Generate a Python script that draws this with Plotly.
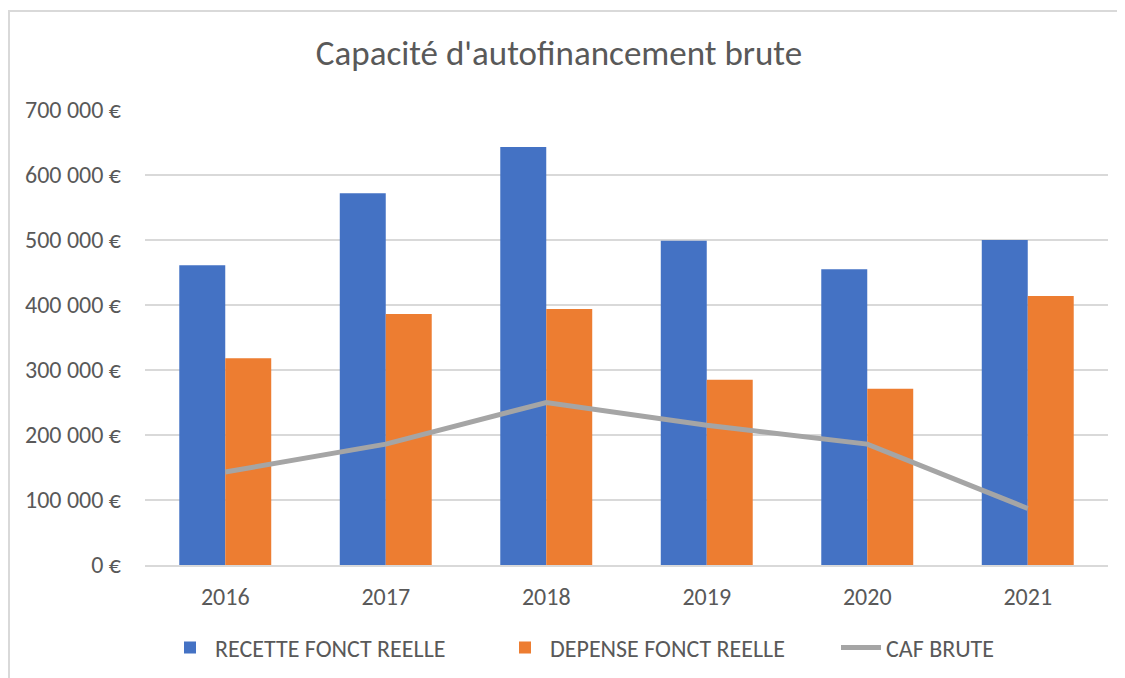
import plotly.graph_objects as go

years = ["2016", "2017", "2018", "2019", "2020", "2021"]
recette = [461000, 572000, 643000, 499000, 455000, 500000]
depense = [318000, 386000, 394000, 285000, 271000, 414000]
caf = [143000, 186000, 250000, 215000, 186000, 87000]
tick_vals = [0, 100000, 200000, 300000, 400000, 500000, 600000, 700000]
tick_text = ["0 €", "100 000 €", "200 000 €", "300 000 €", "400 000 €", "500 000 €", "600 000 €", "700 000 €"]

FONT = "Carlito, Calibri, Lato, Liberation Sans, sans-serif"
TXT = "#595959"

W, H = 1125, 678
L, R, T, B = 137, 1100, 102, 557   # plot area in figure pixels
PW, PH = R - L, B - T

fig = go.Figure()
fig.add_trace(go.Bar(x=years, y=recette, name="RECETTE FONCT REELLE", legend="legend",
                     marker=dict(color="#4472C4", line=dict(width=0))))
fig.add_trace(go.Bar(x=years, y=depense, name="DEPENSE FONCT REELLE", legend="legend2",
                     marker=dict(color="#ED7D31", line=dict(width=0))))
fig.add_trace(go.Scatter(x=years, y=caf, name="CAF BRUTE", mode="lines", legend="legend3",
                         line=dict(color="#A5A5A5", width=5)))

leg_y = -(640 - B) / PH


def leg(text_x):
    return dict(orientation="h", x=(text_x - 50 - L) / PW, xanchor="left",
                y=leg_y, yanchor="middle", bgcolor="rgba(0,0,0,0)",
                font=dict(size=24, color=TXT, family=FONT), itemwidth=40)


fig.update_layout(
    width=W, height=H,
    paper_bgcolor="white", plot_bgcolor="white",
    margin=dict(l=L, r=W - R, t=T, b=H - B, autoexpand=False),
    barmode="group", bargap=0.427, bargroupgap=0,
    font=dict(family=FONT, color=TXT, size=24),
    title=dict(text="Capacité d'autofinancement brute", x=551 / W, xanchor="center",
               y=1 - 45 / H, yanchor="middle",
               font=dict(family=FONT, size=35, color=TXT)),
    xaxis=dict(showgrid=False, showline=True, linecolor="#D9D9D9", linewidth=1.5,
               ticks="", ticklabelstandoff=9, tickfont=dict(size=24, color=TXT)),
    yaxis=dict(range=[0, 700000], tickvals=tick_vals, ticktext=tick_text,
               showgrid=True, gridcolor="#D9D9D9", gridwidth=1.5,
               zeroline=False, showline=False, ticks="", ticklabelstandoff=23,
               tickfont=dict(size=24, color=TXT)),
    legend=leg(207),
    legend2=leg(542),
    legend3=leg(878),
    showlegend=True,
)
fig.add_shape(type="rect", xref="paper", yref="paper",
              x0=(1 - L) / PW, x1=1.1, y0=-0.4, y1=1 + (T - 3) / PH,
              line=dict(color="#D9D9D9", width=2), fillcolor="rgba(0,0,0,0)", layer="below")

fig.write_html("out.html")
